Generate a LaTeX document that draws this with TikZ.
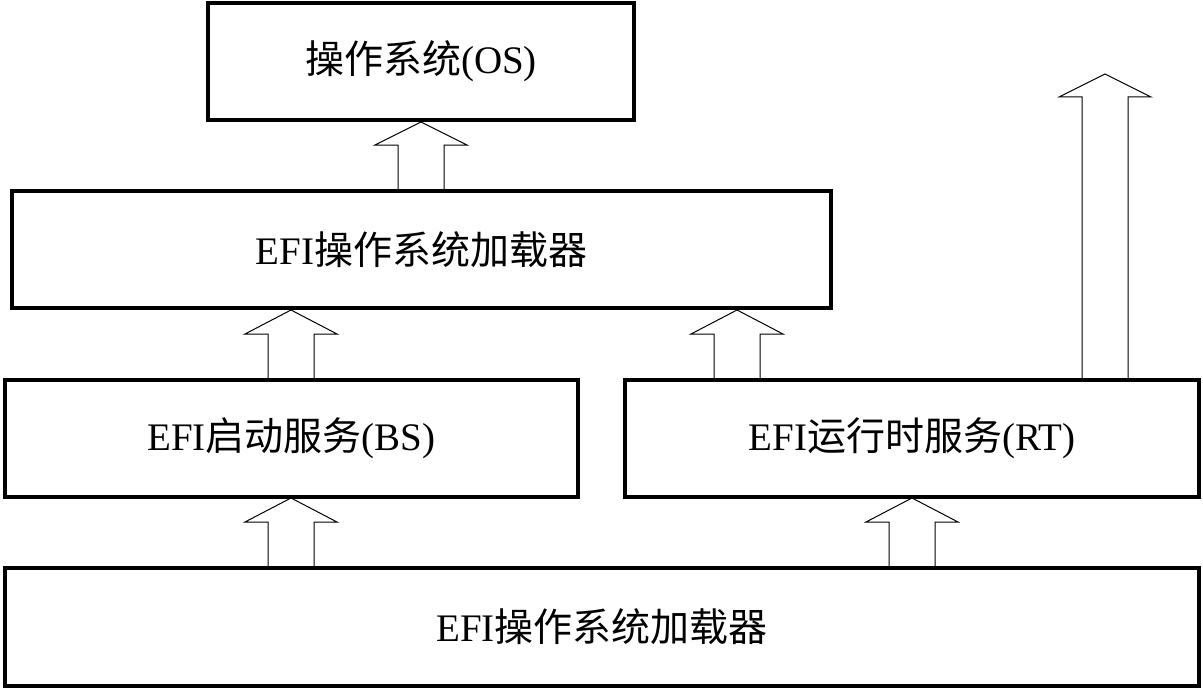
\documentclass[tikz,border=0pt]{standalone}
\usepackage{fontspec}
\setmainfont{Liberation Serif}
\newfontfamily\cjk{Noto Sans CJK SC}
\begin{document}
\begin{tikzpicture}[x=0.5pt,y=-0.5pt,
 box/.style={draw,line width=1.6pt,inner sep=0pt},
 harrow/.style={draw,line width=0.5pt}]
\useasboundingbox (0,0) rectangle (1203,690);
\def\bx(#1,#2,#3,#4)#5#6{\node[box,minimum width=#3*0.5pt-#1*0.5pt,minimum height=#4*0.5pt-#2*0.5pt,font=\fontsize{19.5}{22}\selectfont] (#5) at ({(#1+#3)/2},{(#2+#4)/2}) {#6};}
\bx(208,3,634,120){os}{{\cjk 操作系统}(OS)}
\bx(12,191,831,308){ldr}{EFI{\cjk 操作系统加载器}}
\bx(5,380,578,497){bs}{EFI{\cjk 启动服务}(BS)}
\bx(625,380,1199,497){rt}{EFI{\cjk 运行时服务}(RT)}
\bx(5,568,1199,686){bot}{EFI{\cjk 操作系统加载器}}
\newcommand\harr[4]{\draw[harrow] ({#1-23},#2) -- ({#1-23},#3) -- ({#1-46},#3) -- (#1,#4) -- ({#1+46},#3) -- ({#1+23},#3) -- ({#1+23},#2);}
\harr{421}{191}{145}{122}
\harr{291}{380}{334}{310}
\harr{737}{380}{334}{310}
\harr{1105}{380}{97}{74}
\harr{291}{568}{522}{498}
\harr{912}{568}{522}{498}
\end{tikzpicture}
\end{document}
